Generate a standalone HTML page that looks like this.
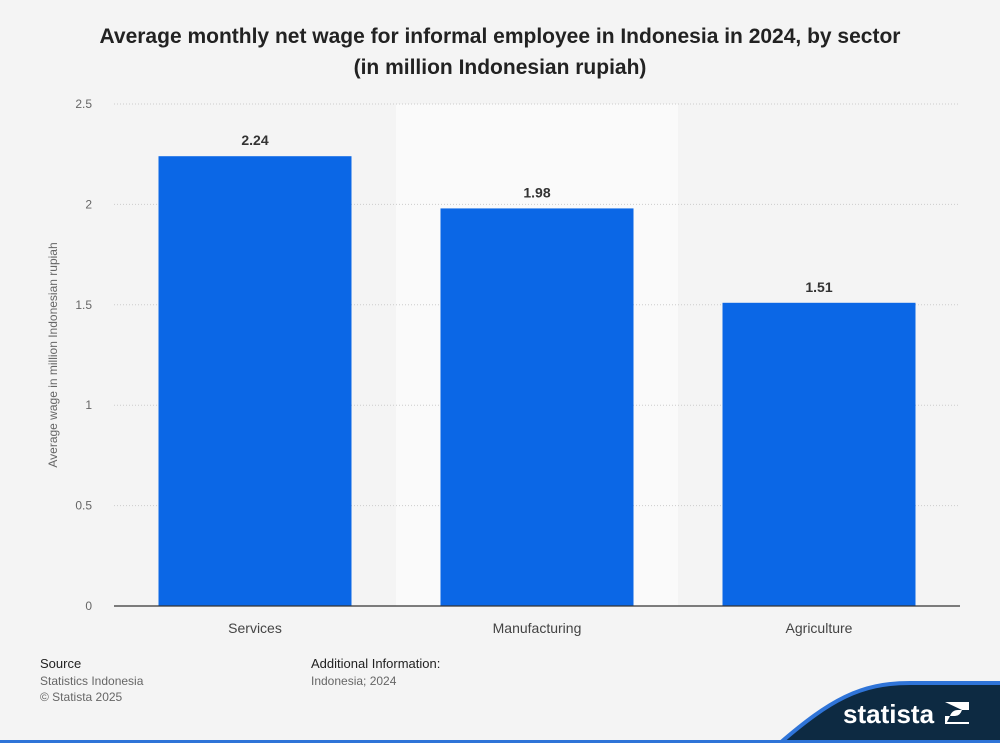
<!DOCTYPE html>
<html><head><meta charset="utf-8"><style>
body{margin:0;width:1000px;height:743px;background:#f4f4f4;font-family:"Liberation Sans",sans-serif;overflow:hidden;position:relative}
.t{position:absolute;left:0;width:1000px;text-align:center;font-weight:bold;font-size:21px;color:#222}
.s{position:absolute;font-size:12px;color:#666}
</style></head><body>
<div class="t" style="top:21px;line-height:31px">Average monthly net wage for informal employee in Indonesia in 2024, by sector<br>(in million Indonesian rupiah)</div>
<svg id="c" width="1000" height="743" style="position:absolute;left:0;top:0"></svg>
<div class="s" style="left:40px;top:656px;color:#222;font-size:13px">Source</div>
<div class="s" style="left:40px;top:674px">Statistics Indonesia</div>
<div class="s" style="left:40px;top:690px">© Statista 2025</div>
<div class="s" style="left:311px;top:656px;color:#222;font-size:13px">Additional Information:</div>
<div class="s" style="left:311px;top:674px">Indonesia; 2024</div>
<script>
const categories=["Services","Manufacturing","Agriculture"];
const values=[2.24,1.98,1.51];
const ticks=[0,0.5,1,1.5,2,2.5];
const NS="http://www.w3.org/2000/svg";
const svg=document.getElementById('c');
const x0=114,x1=960,y0=606,yTop=104,ymax=2.5;
const y=v=>y0-(v/ymax)*(y0-yTop);
const bw=(x1-x0)/categories.length;
function mk(t,a,txt){const e=document.createElementNS(NS,t);for(const k in a)e.setAttribute(k,a[k]);if(txt!=null)e.textContent=txt;svg.appendChild(e);return e;}
let e=mk('rect',{x:x0+bw,y:yTop,width:bw,height:y0-yTop,fill:'#fafafa'});


ticks.forEach(t=>{
 if(t>0){const l=mk('line',{x1:x0,x2:x1,y1:y(t),y2:y(t),stroke:'#ccc','stroke-dasharray':'1,2'});
 
 }
 const tx=mk('text',{x:92,y:y(t)+4,'text-anchor':'end','font-size':12,fill:'#666'},t);
 
 
});
categories.forEach((c,i)=>{
 const cx=x0+bw*(i+0.5),w=193;
 const r=mk('rect',{x:cx-w/2,y:y(values[i]),width:w,height:y0-y(values[i]),fill:'#0b67e6'});
 
 
 const v=mk('text',{x:cx,y:y(values[i])-11,'text-anchor':'middle','font-size':14,'font-weight':'bold',fill:'#333'},values[i].toFixed(2));
 
 
 const l=mk('text',{x:cx,y:633,'text-anchor':'middle','font-size':14,fill:'#444'},c);
 
 
});
const ax=mk('line',{x1:x0,x2:x1,y1:y0,y2:y0,stroke:'#333','stroke-width':1.3});


const yt=mk('text',{x:0,y:0,transform:'translate(57,355) rotate(-90)','text-anchor':'middle','font-size':12,fill:'#666'},'Average wage in million Indonesian rupiah');


const f=mk('path',{d:'M780,743 C830,700 860,683 910,683 L1000,683 L1000,743 Z',fill:'#0d2a42'});


const fb=mk('path',{d:'M780,743 C830,700 860,683 910,683 L1000,683',fill:'none',stroke:'#2f74d8','stroke-width':4});


const bl=mk('rect',{x:0,y:740,width:1000,height:3,fill:'#2f74d8'});


const lg=mk('text',{x:843,y:723,'font-size':26,'font-weight':'bold',fill:'#fff'},'statista');


const ic=mk('path',{d:'M945,702 H969 V710 H958 Q952,710 950,716 L947,722 H969 V724 H945 V716 H955 Q960,716 962,710 Z',fill:'#fff'});


</script>
</body></html>
